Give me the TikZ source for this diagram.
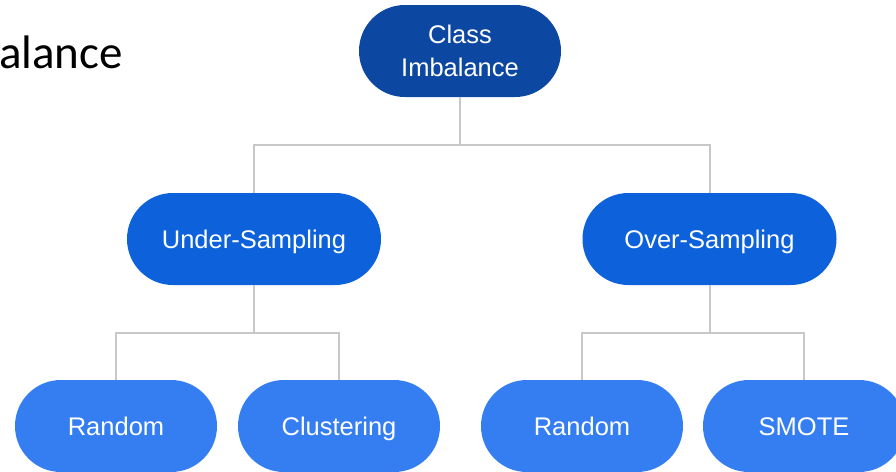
\documentclass[tikz,border=0pt]{standalone}
\usepackage{fontspec}
\setmainfont{Liberation Sans}
\newfontfamily\titlefont{Carlito}
\usetikzlibrary{positioning}
\definecolor{rootc}{HTML}{0C47A1}
\definecolor{midc}{HTML}{0D62DB}
\definecolor{leafc}{HTML}{357EF2}
\definecolor{linkc}{HTML}{C8C8C8}

\begin{document}
\begin{tikzpicture}[x=1pt, y=-1pt, font=\fontsize{25.5}{33}\selectfont,
  pill/.style={rounded corners=45.9pt, minimum width=202pt, minimum height=92pt,
               inner sep=0pt, align=center, text=white},
  top/.style={pill, fill=rootc},
  mid/.style={pill, fill=midc, minimum width=254pt, text height=18.3pt, text depth=0pt},
  leaf/.style={pill, fill=leafc, text height=18.3pt, text depth=0pt},
  link/.style={draw=linkc, line width=2pt}]
  \useasboundingbox (0,0) rectangle (896,471);
  \node[anchor=base west, inner sep=0pt, font=\titlefont\fontsize{47}{50}\selectfont] (title) at (-1,68) {alance};
  % tree
  \node[top] (root) at (460,51) {Class\\Imbalance};
  \node[mid] (under) at (254,239) {Under-Sampling};
  \node[mid] (over) at (709.5,239) {Over-Sampling};
  \node[leaf] (urand) at (116,426) {Random};
  \node[leaf] (clust) at (339,426) {Clustering};
  \node[leaf] (orand) at (582,426) {Random};
  \node[leaf] (smote) at (804,426) {SMOTE};
  % elbow links
  \coordinate[below=48pt of root.south] (split0);
  \coordinate[below=48pt of under.south] (split1);
  \coordinate[below=48pt of over.south] (split2);
  \draw[link] (root) -- (split0) -| (under);
  \draw[link] (split0) -| (over);
  \draw[link] (under) -- (split1) -| (urand);
  \draw[link] (split1) -| (clust);
  \draw[link] (over) -- (split2) -| (orand);
  \draw[link] (split2) -| (smote);
\end{tikzpicture}
\end{document}
